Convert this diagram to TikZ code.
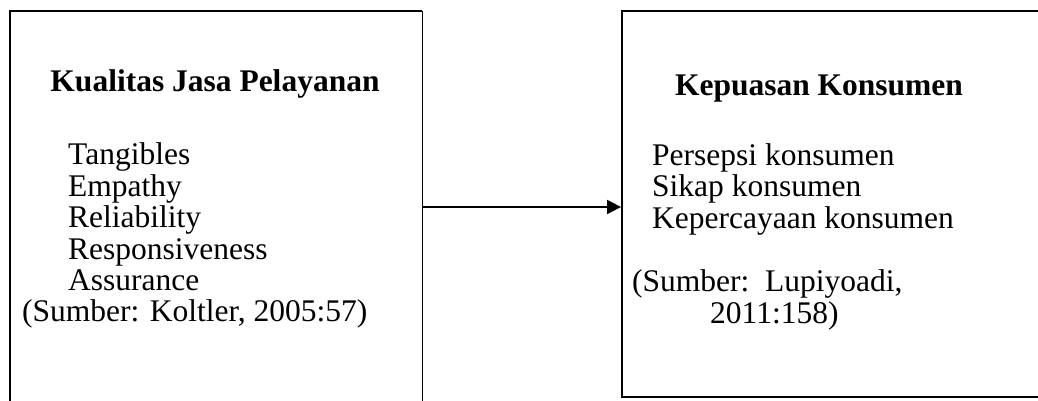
\documentclass[tikz,border=0pt]{standalone}
\usepackage{fontspec}
\setmainfont{Liberation Serif}
\usetikzlibrary{arrows.meta, positioning}

\begin{document}
\begin{tikzpicture}[
  x=1pt, y=-1pt,
  framebox/.style={rectangle, inner sep=0pt},
  head/.style={font=\fontsize{31.5}{31.5}\selectfont\bfseries, anchor=base, inner sep=0pt},
  item/.style={font=\fontsize{31.5}{31.5}\selectfont, anchor=base west, inner sep=0pt}
]
  \useasboundingbox (0,0) rectangle (1038,401);

  \node[framebox, minimum width=412pt, minimum height=406pt] (kualitas) at (216,214) {};
  \node[framebox, draw, line width=1.8pt, minimum width=460pt, minimum height=386pt] (kepuasan) at (852,204) {};
  \draw[line width=1.8pt] (kualitas.south west) -- (kualitas.north west) -- (kualitas.north east);
  \draw[line width=0.7pt] (kualitas.north east) -- (kualitas.south east);

  % left box text
  \node[head] (khead) at (215,92) {Kualitas Jasa Pelayanan};
  \foreach \name/\txt [count=\i] in {tang/Tangibles, emp/Empathy, rel/Reliability, resp/Responsiveness, ass/Assurance}{
    \node[item] (\name) at (68,133+31.5*\i) {\txt};
  }
  \node[item] (ksumber) at (22,321) {(Sumber: Koltler, 2005:57)};

  % right box text
  \node[head] (phead) at (819,96) {Kepuasan Konsumen};
  \foreach \name/\txt [count=\i] in {pers/Persepsi konsumen, sikap/Sikap konsumen, perc/Kepercayaan konsumen}{
    \node[item] (\name) at (652,133.5+31.5*\i) {\txt};
  }
  \node[item] (psumber) at (632,291) {(Sumber:\ \ Lupiyoadi,};
  \node[item] (ptahun) at (710,323) {2011:158)};

  \coordinate (arrowy) at (0,207);
  \draw[line width=1.6pt, -{Triangle[length=14pt, width=14pt]}] (kualitas.east |- arrowy) -- (kepuasan.west |- arrowy);
\end{tikzpicture}
\end{document}
